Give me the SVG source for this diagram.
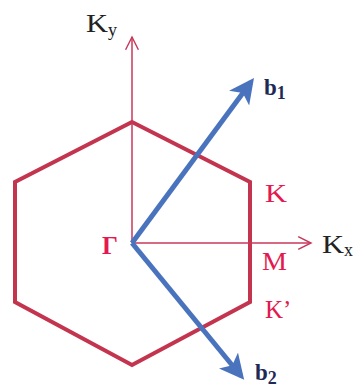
<svg xmlns="http://www.w3.org/2000/svg" width="354" height="387" viewBox="0 0 354 387">
<style>
.hex{fill:none;stroke:#c3354f;stroke-width:4;stroke-linejoin:miter}
.axis{fill:none;stroke:#c8375a;stroke-width:1.5}
.vec{fill:none;stroke:#4a73bd;stroke-width:5;stroke-linecap:butt}
.pt{font-family:"Liberation Serif",serif;font-size:25px;fill:#e3194f}
.ax{font-family:"Liberation Serif",serif;font-size:25px;fill:#222}
.bl{font-family:"Liberation Serif",serif;font-size:23px;font-weight:bold;fill:#1e2a55}
</style>
<defs>
<marker id="open" viewBox="0 0 20 20" refX="18" refY="10" markerWidth="16" markerHeight="16" markerUnits="userSpaceOnUse" orient="auto">
<path d="M2,2 L18,10 L2,18" fill="none" stroke="#c8375a" stroke-width="1.8"/>
</marker>
<marker id="fill" viewBox="0 0 10 10" refX="8" refY="5" markerWidth="5" markerHeight="5" orient="auto">
<path d="M0,0 L10,5 L0,10 L2.5,5 Z" fill="#4a73bd"/>
</marker>
</defs>
<g id="hexagon"><polygon class="hex" points="132,122 250,182 250,302 132,365 15,302 15,182"/></g>
<g id="connectors">
<line class="axis" x1="132" y1="243" x2="132" y2="37" marker-end="url(#open)"/>
<line class="axis" x1="132" y1="243" x2="311" y2="243" marker-end="url(#open)"/>
<line class="vec" x1="132" y1="243" x2="251" y2="82" marker-end="url(#fill)"/>
<line class="vec" x1="132" y1="243" x2="241" y2="376" marker-end="url(#fill)"/>
</g>
<g id="ky"><text class="ax" x="86" y="32"><tspan textLength="22" lengthAdjust="spacingAndGlyphs">K</tspan><tspan font-size="18" dy="4">y</tspan></text></g>
<g id="kx"><text class="ax" x="322" y="253"><tspan textLength="22" lengthAdjust="spacingAndGlyphs">K</tspan><tspan font-size="18" dy="3">x</tspan></text></g>
<g id="b1"><text class="bl" x="264" y="95">b<tspan font-size="18" dy="4">1</tspan></text></g>
<g id="b2"><text class="bl" x="255" y="380">b<tspan font-size="18" dy="4">2</tspan></text></g>
<g id="gamma"><text class="pt" x="102" y="254" font-weight="bold" font-size="28">Γ</text></g>
<g id="K"><text class="pt" x="265" y="202" textLength="22" lengthAdjust="spacingAndGlyphs">K</text></g>
<g id="M"><text class="pt" x="262" y="270" textLength="25" lengthAdjust="spacingAndGlyphs">M</text></g>
<g id="Kp"><text class="pt" x="265" y="318">K’</text></g>
</svg>
